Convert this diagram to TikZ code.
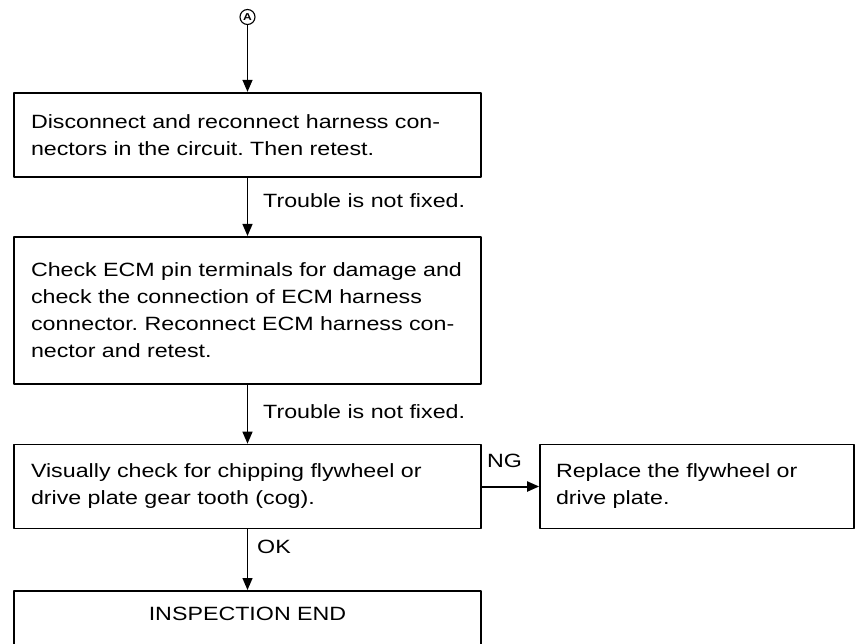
\documentclass[tikz,border=0pt]{standalone}
\usepackage{fontspec}
\setmainfont[FakeStretch=1.21]{Liberation Sans}
\usetikzlibrary{arrows.meta,positioning}
\frenchspacing

\begin{document}
\begin{tikzpicture}[x=1pt,y=-1pt,line cap=round,line join=round,>={Triangle[length=12pt,width=10pt]},
  every node/.style={inner sep=1pt,font=\fontsize{19.2}{27}\selectfont},
  box/.style={draw,line width=1.7pt,minimum width=467pt,text width=439pt,inner xsep=14pt,inner ysep=8pt,align=left},
  flow/.style={->,line width=1.3pt}]
  \useasboundingbox (0,0) rectangle (857,643);
  \def\cx{247.5}
  \node[draw,circle,line width=1.1pt,minimum size=15pt,inner sep=0pt,font=\fontsize{10}{10}\selectfont\bfseries] (start) at (\cx,17) {A};
  \node[box,minimum height=84pt] (check1) at (\cx,134.7) {\hspace*{3pt}Disconnect and reconnect harness con-\\\hspace*{3pt}nectors in the circuit. Then retest.};
  \node[box,minimum height=147pt] (check2) at (\cx,310.3) {\hspace*{3pt}Check ECM pin terminals for damage and\\\hspace*{3pt}check the connection of ECM harness\\\hspace*{3pt}connector. Reconnect ECM harness con-\\\hspace*{3pt}nector and retest.};
  \node[box,minimum height=84pt] (check3) at (\cx,486.5) {\hspace*{3pt}Visually check for chipping flywheel or\\\hspace*{3pt}drive plate gear tooth (cog).};
  \node[draw,line width=1.7pt,minimum width=314pt,minimum height=84pt,text width=282pt,inner xsep=16pt,align=left] (replace) at (697,486.5) {Replace the flywheel or\\drive plate.};
  \node[box,anchor=north,align=center,text height=22pt,text depth=50pt] (done) at (\cx,590) {INSPECTION END};
  \draw[flow] (start) -- (check1);
  \draw[flow] (check1) -- (check2);
  \draw[flow] (check2) -- (check3);
  \draw[flow] (check3) -- (done);
  \draw[->,line width=2pt] (check3) -- (replace);
  \node[anchor=west] (fix1) at (262,201) {Trouble is not fixed.};
  \node[anchor=west] (fix2) at (262,412) {Trouble is not fixed.};
  \node[anchor=west] (ng) at (486,461) {NG};
  \node[anchor=west] (ok) at (256,547) {OK};
\end{tikzpicture}
\end{document}
